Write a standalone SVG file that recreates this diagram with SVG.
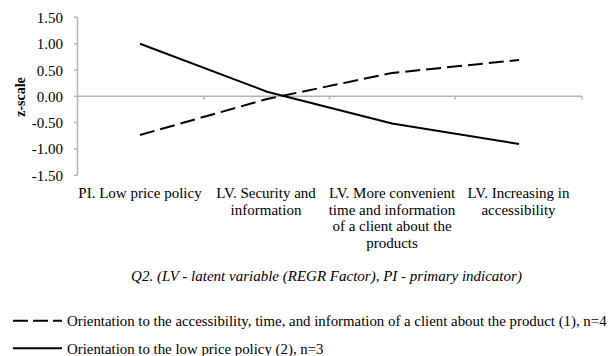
<svg xmlns="http://www.w3.org/2000/svg" width="616" height="356" viewBox="0 0 616 356">
<style>
text{font-family:"Liberation Serif","Times New Roman",serif;font-size:15px;fill:#000}
.yl{text-anchor:end}
.cl{text-anchor:middle}
.ax{stroke:#b3b3b3;stroke-width:1.5;fill:none}
.s1{stroke:#000;stroke-width:2;fill:none;stroke-dasharray:15 6}
.s2{stroke:#000;stroke-width:2;fill:none}
.lg{font-size:14.85px}
</style>
<rect width="616" height="356" fill="#fff"/>
<g id="axes">
<path class="ax" d="M77.5 17.3V175.3M74 17.3H77.5M74 43.7H77.5M74 70H77.5M74 96.3H77.5M74 122.6H77.5M74 149H77.5M74 175.3H77.5"/>
<path class="ax" d="M77.5 96.3H582M204 96.3V99.5M329.5 96.3V99.5M455 96.3V99.5M582 96.3V99.5"/>
<text class="yl" x="63" y="23">1.50</text>
<text class="yl" x="63" y="49">1.00</text>
<text class="yl" x="63" y="75.5">0.50</text>
<text class="yl" x="63" y="101.5">0.00</text>
<text class="yl" x="63" y="128">-0.50</text>
<text class="yl" x="63" y="154">-1.00</text>
<text class="yl" x="63" y="180.5">-1.50</text>
<text x="0" y="0" transform="translate(25 97) rotate(-90)" text-anchor="middle" font-weight="bold" style="font-size:14px">z-scale</text>
</g>
<g id="categories">
<text class="cl" x="140" y="198">PI. Low price policy</text>
<text class="cl" x="266" y="198">LV. Security and</text>
<text class="cl" x="266" y="214.5">information</text>
<text class="cl" x="392" y="198">LV. More convenient</text>
<text class="cl" x="392" y="214.5">time and information</text>
<text class="cl" x="392" y="231">of a client about the</text>
<text class="cl" x="392" y="247.5">products</text>
<text class="cl" x="518.5" y="198">LV. Increasing in</text>
<text class="cl" x="518.5" y="214.5">accessibility</text>
</g>
<g id="connectors">
<polyline id="series1" class="s1" points="140,135 267,99 392,73 519,60"/>
<polyline id="series2" class="s2" points="140,43.7 267,91.7 392,123.5 519,144"/>
</g>
<g id="caption">
<text class="cl" x="326.5" y="281" font-style="italic">Q2. (LV - latent variable (REGR Factor), PI - primary indicator)</text>
</g>
<g id="legend">
<line x1="13" y1="320.7" x2="62" y2="320.7" stroke="#000" stroke-width="2" stroke-dasharray="15 5"/>
<text class="lg" x="67" y="326">Orientation to the accessibility, time, and information of a client about the product (1), n=4</text>
<line x1="13" y1="348.3" x2="62" y2="348.3" stroke="#000" stroke-width="2"/>
<text class="lg" x="67" y="354">Orientation to the low price policy (2), n=3</text>
</g>
</svg>
